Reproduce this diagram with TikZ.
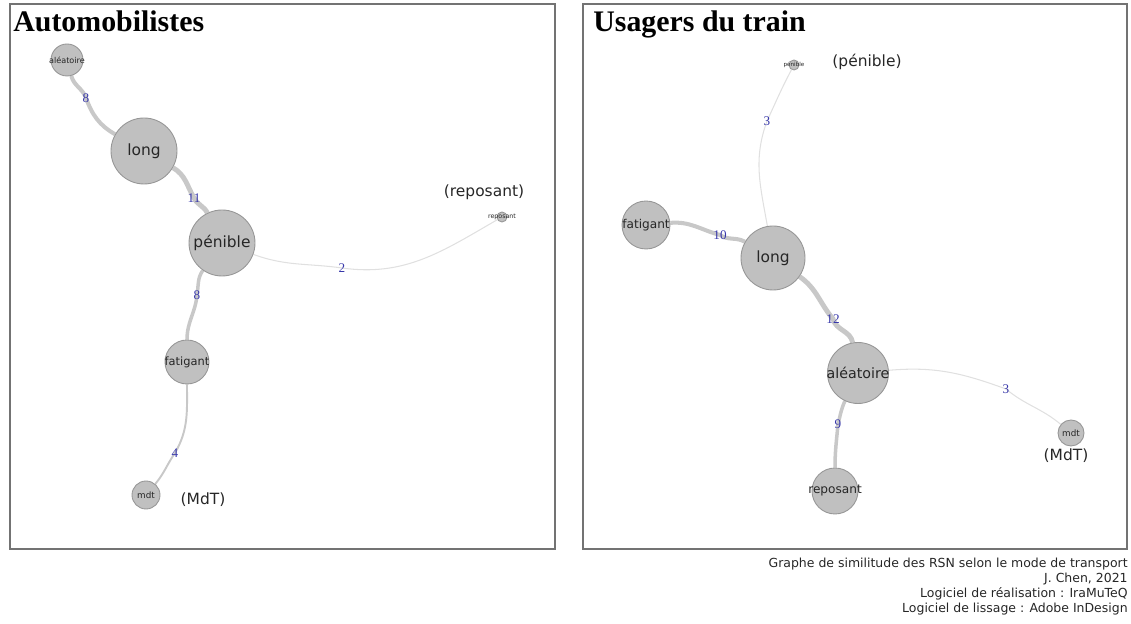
\documentclass[tikz,border=0pt]{standalone}
\usepackage{fontspec}
\newfontfamily\wordfont{DejaVu Sans}
\newfontfamily\headfont{Liberation Serif}
\usetikzlibrary{backgrounds}
\definecolor{wblue}{RGB}{55,55,170}
\definecolor{bubblegray}{RGB}{192,192,192}
\definecolor{rimgray}{RGB}{150,150,150}
\definecolor{linkgray}{RGB}{200,200,200}
\definecolor{faintgray}{RGB}{224,224,224}
\newcommand{\fs}[1]{\fontsize{#1}{#1}\selectfont}
\newcommand{\word}[1]{\makebox[0pt]{#1}}
\tikzset{
  bubble/.style={circle,draw=rimgray,line width=0.5pt,fill=bubblegray,
    inner sep=0pt,text=black!85,minimum size=#1},
  weight/.style={inner sep=0pt,text=wblue,font=\headfont\fs{7.5}},
  note/.style={inner sep=0pt,text=black!85,font=\wordfont\fs{8.8}},
  link/.style={draw=linkgray,line width=#1},
  thin link/.style={draw=faintgray,line width=0.6pt},
  frame/.style={draw=black!55,line width=0.6pt}
}
\begin{document}
\begin{tikzpicture}[x=0.02cm,y=0.02cm]
\useasboundingbox (0,0) rectangle (1131,624);
% panels
\draw[frame] (10,75) rectangle (555,620);
\draw[frame] (583,75) rectangle (1127,620);
\node[anchor=base west,inner sep=0pt,font=\headfont\bfseries\fs{17}] (t1) at (13,592) {Automobilistes};
\node[anchor=base west,inner sep=0pt,font=\headfont\bfseries\fs{17}] (t2) at (593,592) {Usagers du train};
% Automobilistes
\node[bubble=0.64cm,font=\wordfont\fs{4.6}] (lA) at (67,564) {\word{aléatoire}};
\node[bubble=1.32cm,font=\wordfont\fs{8.8}] (lL) at (144,473) {\word{long}};
\node[bubble=1.32cm,font=\wordfont\fs{8.8}] (lP) at (222,381) {\word{pénible}};
\node[bubble=0.88cm,font=\wordfont\fs{6.5}] (lF) at (187,262) {\word{fatigant}};
\node[bubble=0.56cm,font=\wordfont\fs{5}] (lM) at (146,129) {\word{mdt}};
\node[bubble=0.2cm,font=\wordfont\fs{3.6}] (lR) at (502,407) {\word{reposant}};
\node[note] (lRn) at (484,432) {(reposant)};
\node[note] (lMn) at (203,124) {(MdT)};
\node[weight] (w1) at (86,526) {8};
\node[weight] (w2) at (194,426) {11};
\node[weight] (w3) at (342,356) {2};
\node[weight] (w4) at (197,329) {8};
\node[weight] (w5) at (175,171) {4};
% Usagers du train
\node[bubble=0.2cm,font=\wordfont\fs{3.2}] (rP) at (794,559) {\word{pénible}};
\node[bubble=0.96cm,font=\wordfont\fs{6.9}] (rF) at (646,399) {\word{fatigant}};
\node[bubble=1.28cm,font=\wordfont\fs{8.8}] (rL) at (773,366) {\word{long}};
\node[bubble=1.22cm,font=\wordfont\fs{8.1}] (rA) at (858,251) {\word{aléatoire}};
\node[bubble=0.92cm,font=\wordfont\fs{6.9}] (rR) at (835,133) {\word{reposant}};
\node[bubble=0.52cm,font=\wordfont\fs{5}] (rM) at (1071,191) {\word{mdt}};
\node[note] (rPn) at (867,562) {(pénible)};
\node[note] (rMn) at (1066,168) {(MdT)};
\node[weight] (w6) at (767,503) {3};
\node[weight] (w7) at (720,389) {10};
\node[weight] (w8) at (833,305) {12};
\node[weight] (w9) at (838,200) {9};
\node[weight] (w10) at (1006,235) {3};
\begin{scope}[on background layer]
\draw[link=2.3pt] (lA) to[out=-75,in=110] (w1.center) to[out=-70,in=150] (lL);
\draw[link=2.8pt] (lL) to[out=-30,in=120] (w2.center) to[out=-64,in=116] (lP);
\draw[thin link] (lP) to[out=-20,in=172] (w3.center) to[out=-8,in=-150] (lR);
\draw[link=2pt] (lP) to[out=-125,in=80] (w4.center) to[out=-95,in=90] (lF);
\draw[link=1.1pt] (lF) to[out=-90,in=60] (w5.center) to[out=-125,in=50] (lM);
\draw[thin link] (rP) to[out=-118,in=65] (w6.center) to[out=-110,in=100] (rL);
\draw[link=2.3pt] (rF) to[out=5,in=165] (w7.center) to[out=-35,in=150] (rL);
\draw[link=2.8pt] (rL) to[out=-35,in=130] (w8.center) to[out=-75,in=100] (rA);
\draw[link=2pt] (rA) to[out=-115,in=75] (w9.center) to[out=-95,in=90] (rR);
\draw[thin link] (rA) to[out=5,in=160] (w10.center) to[out=-40,in=140] (rM);
\end{scope}
% source
\node[anchor=north east,align=right,inner sep=0pt,text=black!85,
  font=\wordfont\fontsize{7.1}{8.5}\selectfont] (src) at (1128,66)
  {Graphe de similitude des RSN selon le mode de transport\\J. Chen, 2021\\Logiciel de réalisation : IraMuTeQ\\Logiciel de lissage : Adobe InDesign};
\end{tikzpicture}
\end{document}
